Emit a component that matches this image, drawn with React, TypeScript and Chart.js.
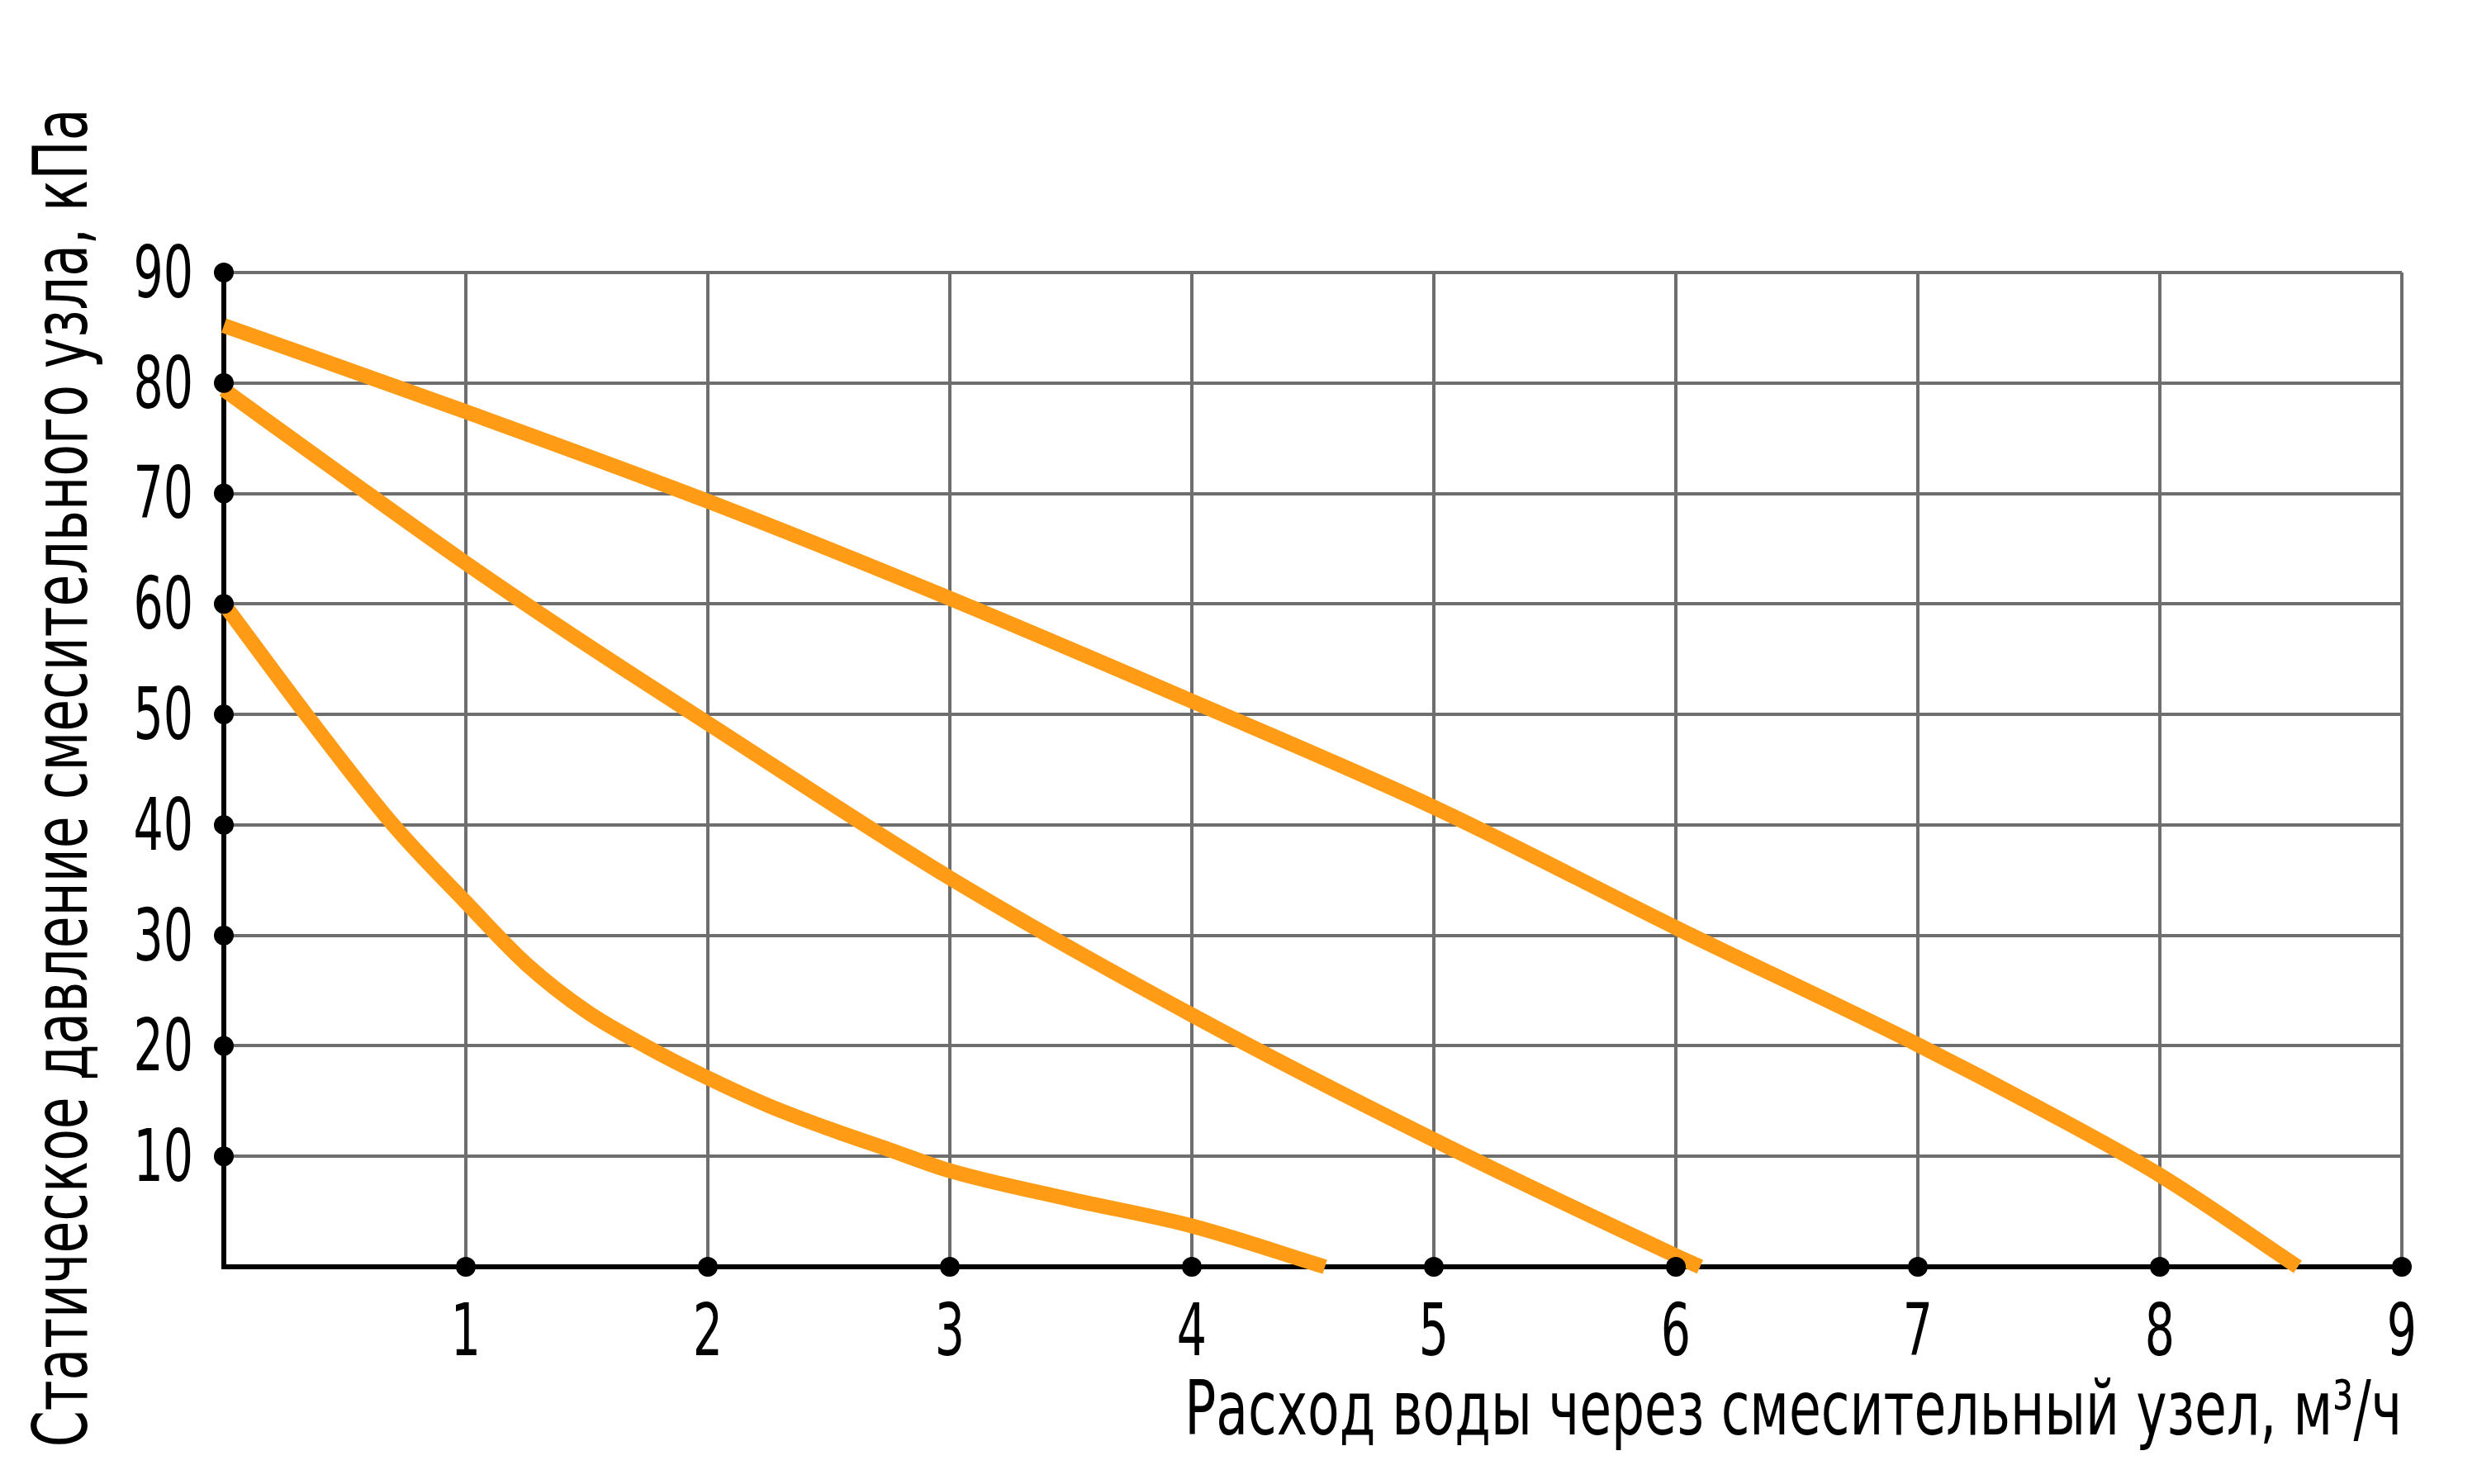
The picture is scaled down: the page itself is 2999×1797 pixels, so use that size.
import React, { useEffect, useRef } from "react";
import { Chart, registerables } from "chart.js";

Chart.register(...registerables);

// axis ticks (м³/ч and кПа)
const flowTicks = [1, 2, 3, 4, 5, 6, 7, 8, 9];
const pressureTicks = [10, 20, 30, 40, 50, 60, 70, 80, 90];

// three characteristic curves
const highFlow = [0, 1, 2, 3, 4, 5, 6, 7, 7.5, 8, 8.57];
const highPressure = [85.2, 77.4, 69.3, 60.5, 51.2, 41.6, 30.7, 20.1, 14.4, 8.3, 0];

const midFlow = [0, 0.5, 1, 1.5, 2, 3, 4, 5, 6, 6.1];
const midPressure = [79.4, 71.5, 63.7, 56.3, 49.2, 35.2, 22.8, 11.5, 1.0, 0];

const lowFlow = [0, 0.34, 0.7, 1, 1.25, 1.5, 1.75, 2, 2.25, 2.5, 2.75, 3, 3.5, 4, 4.55];
const lowPressure = [60, 50, 40, 33.0, 27.4, 23.1, 19.9, 17.1, 14.6, 12.5, 10.6, 8.7, 6.1, 3.7, 0];

const xTitle = "Расход воды через смесительный узел, м³/ч";
const yTitle = "Статическое давление смесительного узла, кПа";

const ORANGE = "#FF9B15";
const GRID = "#6e6e6e";
const FONT = "'DejaVu Sans Condensed', 'Liberation Sans Narrow', sans-serif";
// the original lettering is a very narrow face, so text is squeezed sideways
const DIGIT_SQUEEZE = 0.72;
const TITLE_SQUEEZE = 0.78;

const toPoints = (xs: number[], ys: number[]) => xs.map((x, i) => ({ x, y: ys[i] }));

const curve = (xs: number[], ys: number[]) => ({
  data: toPoints(xs, ys),
  showLine: true,
  borderColor: ORANGE,
  borderWidth: 18,
  borderCapStyle: "butt" as const,
  borderJoinStyle: "round" as const,
  cubicInterpolationMode: "monotone" as const,
  pointRadius: 0,
  clip: false as const,
});

function squeezed(
  ctx: CanvasRenderingContext2D,
  text: string,
  x: number,
  y: number,
  k: number,
  rot = 0
) {
  ctx.save();
  ctx.translate(x, y);
  if (rot) ctx.rotate(rot);
  ctx.scale(k, 1);
  ctx.fillText(text, 0, 0);
  ctx.restore();
}

// tick labels and axis titles, placed from the chart's own scales
const narrowText = {
  id: "narrowText",
  afterDraw(chart: Chart) {
    const { ctx, chartArea, scales, height } = chart;
    const sx = scales.x;
    const sy = scales.y;
    ctx.save();
    ctx.fillStyle = "#000";
    ctx.textBaseline = "middle";

    ctx.font = `88px ${FONT}`;
    ctx.textAlign = "center";
    flowTicks.forEach((v) =>
      squeezed(ctx, String(v), sx.getPixelForValue(v), chartArea.bottom + 84, DIGIT_SQUEEZE)
    );
    ctx.textAlign = "right";
    pressureTicks.forEach((v) =>
      squeezed(ctx, String(v), chartArea.left - 37, sy.getPixelForValue(v) + 7, DIGIT_SQUEEZE)
    );

    ctx.font = `90px ${FONT}`;
    ctx.textAlign = "right";
    squeezed(ctx, xTitle, chartArea.right, height - 83, TITLE_SQUEEZE);
    ctx.textAlign = "center";
    squeezed(
      ctx,
      yTitle,
      82,
      (chartArea.top + chartArea.bottom) / 2 + 10,
      TITLE_SQUEEZE,
      -Math.PI / 2
    );
    ctx.restore();
  },
};

export default function App() {
  const canvas = useRef<HTMLCanvasElement>(null);

  useEffect(() => {
    const dots = [
      ...pressureTicks.map((y) => ({ x: 0, y })),
      ...flowTicks.map((x) => ({ x, y: 0 })),
    ];

    const chart = new Chart(canvas.current!, {
      type: "scatter",
      data: {
        datasets: [
          {
            // black markers on the axes, drawn on top
            data: dots,
            pointRadius: 12,
            pointBackgroundColor: "#000",
            pointBorderWidth: 0,
            showLine: false,
            clip: false,
          } as any,
          curve(highFlow, highPressure),
          curve(midFlow, midPressure),
          curve(lowFlow, lowPressure),
        ],
      },
      options: {
        animation: false,
        responsive: true,
        maintainAspectRatio: false,
        layout: {
          padding: { top: 330, right: 91, left: 0, bottom: 0 },
        },
        plugins: {
          legend: { display: false },
          tooltip: { enabled: false },
        },
        scales: {
          x: {
            type: "linear",
            min: 0,
            max: 9,
            afterFit: (s: any) => {
              s.height = 263;
            },
            ticks: { stepSize: 1, autoSkip: false, display: false },
            grid: { color: GRID, lineWidth: 4, drawTicks: false },
            border: { color: "#000", width: 6 },
            title: { display: false, text: xTitle },
          },
          y: {
            type: "linear",
            min: 0,
            max: 90,
            afterFit: (s: any) => {
              s.width = 271;
            },
            ticks: { stepSize: 10, display: false },
            grid: { color: GRID, lineWidth: 4, drawTicks: false },
            border: { color: "#000", width: 6 },
            title: { display: false, text: yTitle },
          },
        },
      },
      plugins: [narrowText],
    });
    return () => chart.destroy();
  }, []);

  return (
    <div
      style={{
        position: "fixed",
        left: 0,
        top: 0,
        width: "100vw",
        height: "100vh",
        background: "#fff",
      }}
    >
      <canvas ref={canvas}></canvas>
    </div>
  );
}
